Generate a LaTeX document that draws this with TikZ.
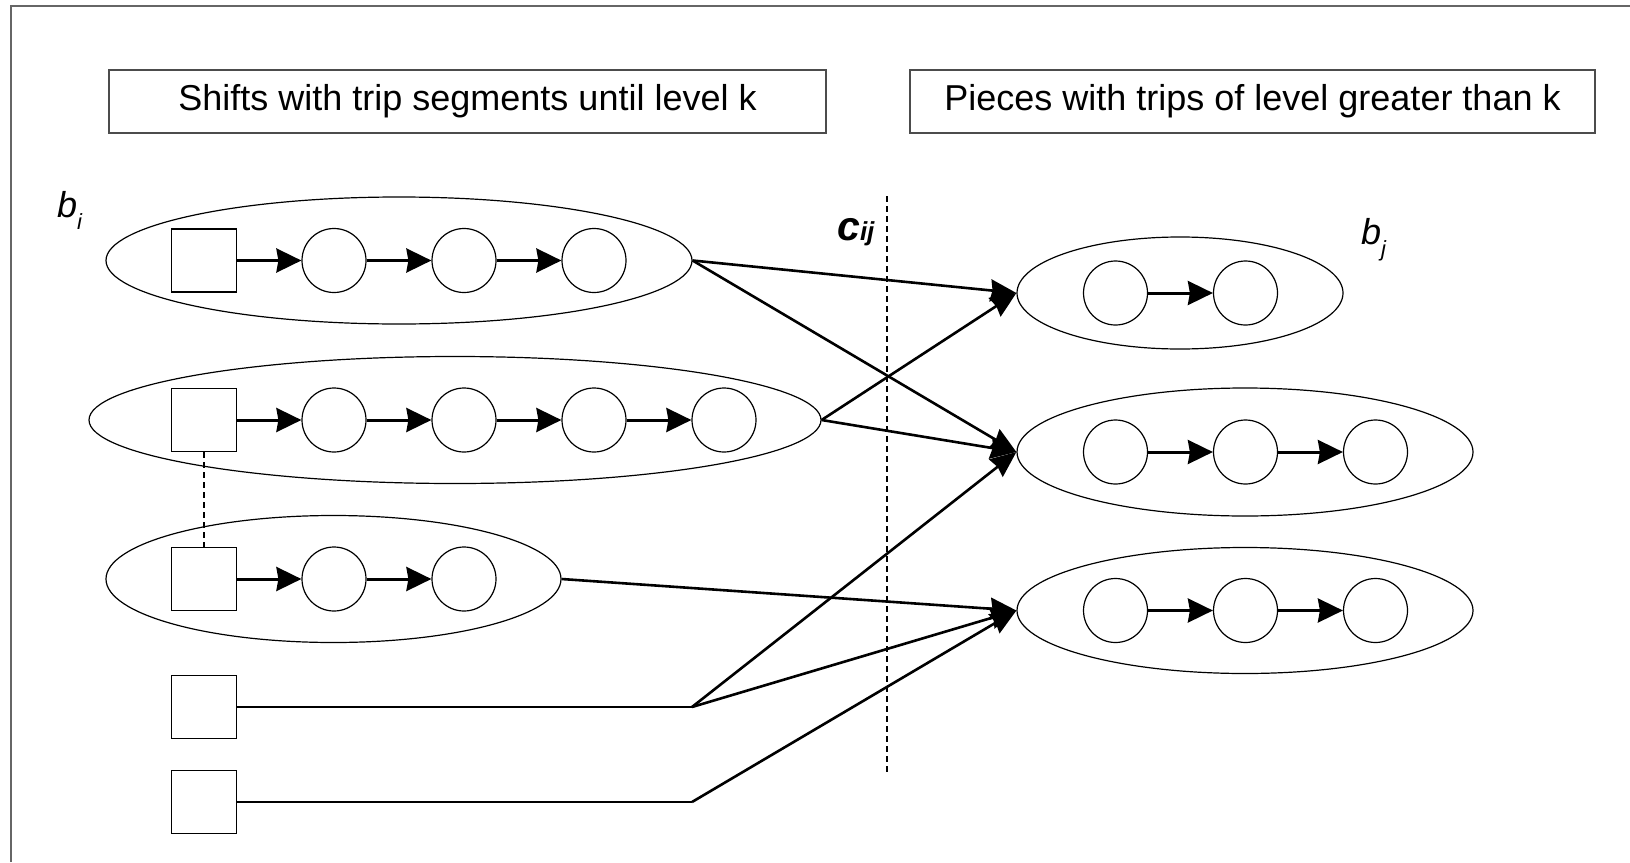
\documentclass[tikz,border=0pt]{standalone}
\usepackage{fontspec}
\setmainfont{Liberation Sans}
\usetikzlibrary{shapes.geometric,arrows.meta}
\begin{document}
\begin{tikzpicture}[x=1pt,y=-1pt,
  thin line/.style={line width=1.2pt},
  ell/.style={ellipse, draw, thin line, inner sep=0pt},
  sq/.style={rectangle, draw, thin line, minimum width=65pt, minimum height=63pt, inner sep=0pt},
  circ/.style={circle, draw, thin line, minimum size=64pt, inner sep=0pt},
  chain/.style={line width=3pt, -{Stealth[length=25pt,width=24pt,inset=2pt]}},
  conn/.style={line width=2.6pt, -{Stealth[length=26pt,width=22pt,inset=2pt]}},
  plainconn/.style={line width=2.6pt},
  title/.style={rectangle, draw=black!70, line width=1.3pt, minimum height=63pt, inner sep=0pt, font=\fontsize{36}{40}\selectfont},
  dashline/.style={line width=2.3pt, dash pattern=on 6pt off 4pt},
  frame/.style={draw=black!60, line width=2pt}
]
\useasboundingbox (0,0) rectangle (1630,862);
\draw[frame] (11,862) -- (11,6) -- (1630,6);

% titles
\node[title, minimum width=717pt] (T1) at (467.5,101.5) {Shifts with trip segments until level k};
\node[title, minimum width=685pt] (T2) at (1252.5,101.5) {Pieces with trips of level greater than k};

% left ellipses
\node[ell, minimum width=586pt, minimum height=127pt] (E1) at (399,260.5) {};
\node[ell, minimum width=732pt, minimum height=127pt] (E2) at (455,420) {};
\node[ell, minimum width=455pt, minimum height=127pt] (E3) at (333.5,579) {};
% right ellipses
\node[ell, minimum width=326pt, minimum height=112pt] (R1) at (1180,293) {};
\node[ell, minimum width=456pt, minimum height=128pt] (R2) at (1245,452) {};
\node[ell, minimum width=456pt, minimum height=126pt] (R3) at (1245,610.5) {};

% squares
\node[sq] (S1) at (204,260.5) {};
\node[sq] (S2) at (204,420) {};
\node[sq] (S3) at (204,579) {};
\node[sq] (S4) at (204,707) {};
\node[sq] (S5) at (204,802) {};

% circles
\node[circ] (A1) at (334,260.5) {};
\node[circ] (A2) at (464,260.5) {};
\node[circ] (A3) at (594,260.5) {};
\node[circ] (B1) at (334,420) {};
\node[circ] (B2) at (464,420) {};
\node[circ] (B3) at (594,420) {};
\node[circ] (B4) at (724,420) {};
\node[circ] (C1) at (334,579) {};
\node[circ] (C2) at (464,579) {};
\node[circ] (P1) at (1115.5,293) {};
\node[circ] (P2) at (1245.5,293) {};
\node[circ] (Q1) at (1115.5,452) {};
\node[circ] (Q2) at (1245.5,452) {};
\node[circ] (Q3) at (1375.5,452) {};
\node[circ] (U1) at (1115.5,610.5) {};
\node[circ] (U2) at (1245.5,610.5) {};
\node[circ] (U3) at (1375.5,610.5) {};

% chain arrows
\draw[chain] (S1) -- (A1);
\draw[chain] (A1) -- (A2);
\draw[chain] (A2) -- (A3);
\draw[chain] (S2) -- (B1);
\draw[chain] (B1) -- (B2);
\draw[chain] (B2) -- (B3);
\draw[chain] (B3) -- (B4);
\draw[chain] (S3) -- (C1);
\draw[chain] (C1) -- (C2);
\draw[chain] (P1) -- (P2);
\draw[chain] (Q1) -- (Q2);
\draw[chain] (Q2) -- (Q3);
\draw[chain] (U1) -- (U2);
\draw[chain] (U2) -- (U3);

% dashed links
\draw[dashline] (S2.south) -- (S3.north);
\coordinate (DT) at (887,196);
\coordinate (DB) at (887,772);
\draw[dashline] (DT) -- (DB);

% connectors
\coordinate (J1) at (692,707);
\coordinate (J2) at (692,802);
\draw[conn] (E1.east) -- (R1.west);
\draw[conn] (E1.east) -- (R2.west);
\draw[conn] (E2.east) -- (R1.west);
\draw[conn] (E2.east) -- (R2.west);
\draw[conn] (E3.east) -- (R3.west);
\draw[plainconn] (S4.east) -- (J1);
\draw[conn] (J1) -- (R2.west);
\draw[conn] (J1) -- (R3.west);
\draw[plainconn] (S5.east) -- (J2);
\draw[conn] (J2) -- (R3.west);

% labels
\node[anchor=base west, inner sep=0pt] (bi) at (57,217) {\fontsize{36}{36}\selectfont\itshape b\raisebox{-12pt}{\fontsize{22}{22}\selectfont i}};
\node[anchor=base west, inner sep=0pt] (cij) at (837,240) {\bfseries\itshape\fontsize{41}{41}\selectfont c\fontsize{26}{26}\selectfont ij};
\node[anchor=base west, inner sep=0pt] (bj) at (1361,244) {\fontsize{36}{36}\selectfont\itshape b\raisebox{-12pt}{\fontsize{22}{22}\selectfont j}};
\end{tikzpicture}
\end{document}
